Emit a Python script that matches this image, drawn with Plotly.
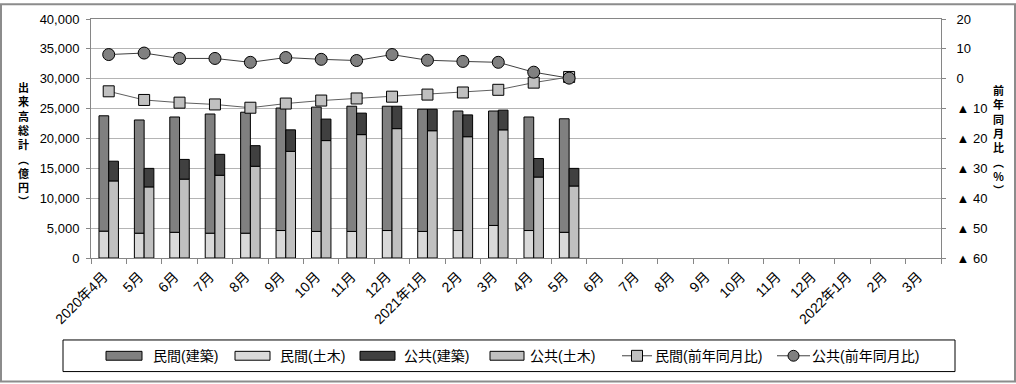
import plotly.graph_objects as go

months = ["2020年4月", "5月", "6月", "7月", "8月", "9月", "10月", "11月", "12月",
          "2021年1月", "2月", "3月", "4月", "5月", "6月", "7月", "8月", "9月", "10月",
          "11月", "12月", "2022年1月", "2月", "3月"]
month_keys = ["2020-04", "2020-05", "2020-06", "2020-07", "2020-08", "2020-09", "2020-10", "2020-11", "2020-12",
              "2021-01", "2021-02", "2021-03", "2021-04", "2021-05", "2021-06", "2021-07", "2021-08", "2021-09",
              "2021-10", "2021-11", "2021-12", "2022-01", "2022-02", "2022-03"]

# 億円
priv_civil = [4500, 4150, 4300, 4150, 4150, 4600, 4450, 4450, 4600, 4450, 4600, 5450, 4600, 4300]
priv_build = [19300, 18950, 19300, 19950, 20250, 20500, 20800, 20950, 20800, 20450, 20000, 19150, 19000, 19000]
pub_civil = [12900, 11900, 13200, 13850, 15350, 17850, 19650, 20650, 21650, 21300, 20300, 21450, 13550, 12050]
pub_build = [3300, 3100, 3300, 3500, 3450, 3600, 3600, 3600, 3750, 3600, 3650, 3300, 3100, 2950]
# 前年同月比 (%)
priv_yoy = [-4.2, -7.1, -8.0, -8.6, -9.7, -8.3, -7.3, -6.6, -6.0, -5.3, -4.6, -3.7, -1.3, 0.6]
pub_yoy = [8.1, 8.6, 6.8, 6.8, 5.5, 7.1, 6.5, 6.1, 8.1, 6.2, 5.8, 5.5, 2.2, 0.2]

y2_vals = [20, 10, 0, -10, -20, -30, -40, -50, -60]
y2_text = ["20", "10", "0", "▲ 10", "▲ 20", "▲ 30", "▲ 40", "▲ 50", "▲ 60"]

names = ["民間(建築)", "民間(土木)", "公共(建築)", "公共(土木)", "民間(前年同月比)", "公共(前年同月比)"]
c_pb, c_pc, c_gb, c_gc = "#808080", "#d9d9d9", "#404040", "#c0c0c0"

FONT = "Liberation Sans, Noto Sans CJK JP, sans-serif"
n = len(priv_civil)
xs = month_keys[:n]

fig = go.Figure()
fig.add_bar(x=xs, y=priv_civil, name=names[1], offsetgroup="p", marker=dict(color=c_pc, line=dict(color="black", width=1)))
fig.add_bar(x=xs, y=priv_build, base=priv_civil, name=names[0], offsetgroup="p", marker=dict(color=c_pb, line=dict(color="black", width=1)))
fig.add_bar(x=xs, y=pub_civil, name=names[3], offsetgroup="g", marker=dict(color=c_gc, line=dict(color="black", width=1)))
fig.add_bar(x=xs, y=pub_build, base=pub_civil, name=names[2], offsetgroup="g", marker=dict(color=c_gb, line=dict(color="black", width=1)))
fig.add_scatter(x=xs, y=priv_yoy, yaxis="y2", name=names[4], mode="lines+markers",
                line=dict(color="#606060", width=1),
                marker=dict(symbol="square", size=11, color=c_gc, line=dict(color="black", width=1)))
fig.add_scatter(x=xs, y=pub_yoy, yaxis="y2", name=names[5], mode="lines+markers",
                line=dict(color="#404040", width=1),
                marker=dict(symbol="circle", size=12, color=c_pb, line=dict(color="black", width=1)))

L, R, T, B = 91, 941, 16, 258
def PX(p):
    return (p - L) / (R - L)
def PY(p):
    return (B - p) / (B - T)

shapes = []
annotations = []
# outer frame
shapes.append(dict(type="rect", xref="paper", yref="paper", x0=PX(1), x1=PX(1015), y0=PY(1), y1=PY(383),
                   line=dict(color="#8c8c8c", width=2)))
# legend box
shapes.append(dict(type="rect", xref="paper", yref="paper", x0=PX(63), x1=PX(955), y0=PY(341), y1=PY(373),
                   line=dict(color="black", width=1)))
ly = 357
box_items = [(106, 142, 151, c_pb, names[0]), (235, 270, 278, c_pc, names[1]),
             (360, 395, 402, c_gb, names[2]), (490, 524, 528, c_gc, names[3])]
for x0, x1, tx, col, nm in box_items:
    shapes.append(dict(type="rect", xref="paper", yref="paper", x0=PX(x0), x1=PX(x1), y0=PY(ly + 4.5), y1=PY(ly - 4.5),
                       fillcolor=col, line=dict(color="black", width=1)))
    annotations.append(dict(xref="paper", yref="paper", x=PX(tx), y=PY(ly), text=nm, showarrow=False,
                            xanchor="left", yanchor="middle", font=dict(size=14, color="black", family=FONT)))
# line legend items
for x0, x1, tx, nm, kind, col in [(622, 652, 653, names[4], "rect", c_gc), (777, 810, 810, names[5], "circle", c_pb)]:
    shapes.append(dict(type="line", xref="paper", yref="paper", x0=PX(x0), x1=PX(x1), y0=PY(ly), y1=PY(ly),
                       line=dict(color="#404040", width=1)))
    cx = (x0 + x1) / 2
    r = 5.5
    shapes.append(dict(type=kind, xref="paper", yref="paper", x0=PX(cx - r), x1=PX(cx + r), y0=PY(ly + r), y1=PY(ly - r),
                       fillcolor=col, line=dict(color="black", width=1)))
    annotations.append(dict(xref="paper", yref="paper", x=PX(tx), y=PY(ly), text=nm, showarrow=False,
                            xanchor="left", yanchor="middle", font=dict(size=14, color="black", family=FONT)))

# vertical axis titles (stacked upright characters)
left_title = ["出", "来", "高", "総", "計", "︵", "億", "円", "︶"]
right_title = ["前", "年", "同", "月", "比", "︵", "%", "︶"]
annotations.append(dict(xref="paper", yref="paper", x=PX(23), y=PY(143), text="<b>" + "<br>".join(left_title) + "</b>",
                        showarrow=False, xanchor="center", yanchor="middle", align="center",
                        font=dict(size=11, color="black", family="Noto Sans CJK JP")))
annotations.append(dict(xref="paper", yref="paper", x=PX(999), y=PY(139), text="<b>" + "<br>".join(right_title) + "</b>",
                        showarrow=False, xanchor="center", yanchor="middle", align="center",
                        font=dict(size=11, color="black", family="Noto Sans CJK JP")))

axis_col = "#868686"
fig.update_layout(
    width=1016, height=384,
    margin=dict(l=L, r=1016 - R, t=T, b=384 - B),
    paper_bgcolor="white", plot_bgcolor="white",
    barmode="group", bargap=0.45, bargroupgap=0,
    showlegend=False,
    font=dict(family=FONT, size=13, color="black"),
    xaxis=dict(type="category", categoryorder="array", categoryarray=month_keys, range=[-0.5, len(month_keys) - 0.5],
               tickmode="array", tickvals=month_keys, ticktext=months,
               showline=True, linecolor=axis_col, linewidth=1, mirror=True,
               ticks="outside", tickson="boundaries", ticklen=5, tickcolor=axis_col,
               tickangle=-45, tickfont=dict(size=14), showgrid=False,
               ticklabelstandoff=4, ticklabelshift=-5),
    yaxis=dict(range=[0, 40000], dtick=5000, tickformat=",", showgrid=True, gridcolor="#b4b4b4", gridwidth=1,
               showline=True, linecolor=axis_col, linewidth=1, ticks="outside", ticklen=4, tickcolor=axis_col,
               tickfont=dict(size=13), zeroline=False, ticklabelstandoff=4),
    yaxis2=dict(overlaying="y", side="right", range=[-60, 20], tickvals=y2_vals, ticktext=y2_text,
                showgrid=False, zeroline=False, showline=True, linecolor=axis_col, linewidth=1,
                ticks="outside", ticklen=4, tickcolor=axis_col, tickfont=dict(size=13), ticklabelstandoff=8),
    shapes=shapes,
    annotations=annotations,
)

fig.write_html("out.html", config={"displayModeBar": False},
               post_script="document.body.style.margin='0';document.body.style.overflow='hidden';")
